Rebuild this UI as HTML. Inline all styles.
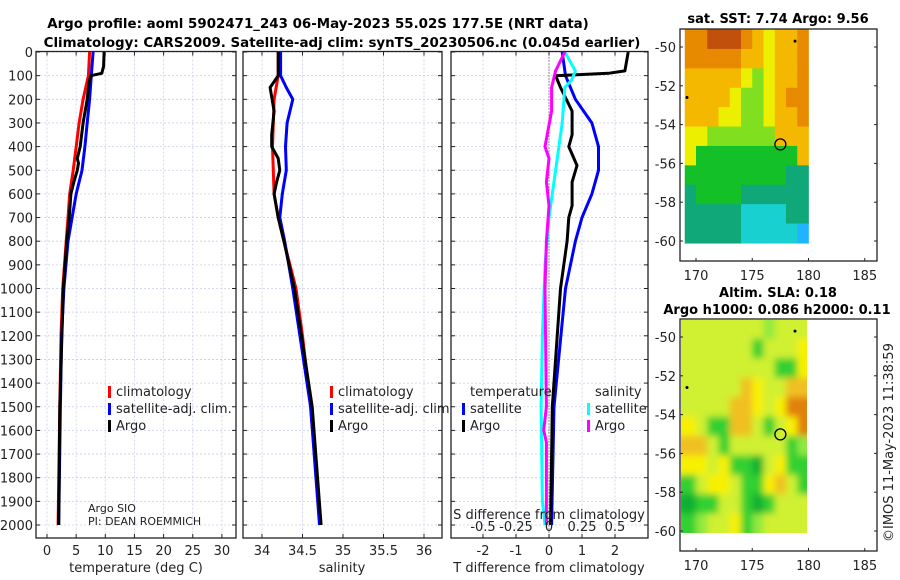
<!DOCTYPE html>
<html><head><meta charset="utf-8"><style>
html,body{margin:0;padding:0;background:#fff;}
svg{display:block;font-family:"DejaVu Sans","Liberation Sans",sans-serif;}
</style></head><body>
<svg id="fig" width="900" height="580" viewBox="0 0 900 580">
<defs>
<filter id="blur" x="-0.1" y="-0.1" width="1.2" height="1.2"><feGaussianBlur stdDeviation="3.5"/></filter>
<clipPath id="clipSla"><rect x="681" y="320" width="126" height="213"/></clipPath>
</defs>
<text x="318" y="28" text-anchor="middle" font-size="13.4" font-weight="bold">Argo profile: aoml 5902471_243 06-May-2023 55.02S 177.5E (NRT data)</text>
<text x="342" y="47" text-anchor="middle" font-size="13.4" font-weight="bold">Climatology: CARS2009. Satellite-adj clim: synTS_20230506.nc (0.045d earlier)</text>
<text x="778" y="23" text-anchor="middle" font-size="13" font-weight="bold">sat. SST: 7.74 Argo: 9.56</text>
<text x="778" y="297" text-anchor="middle" font-size="13" font-weight="bold">Altim. SLA: 0.18</text>
<text x="777" y="314" text-anchor="middle" font-size="13" font-weight="bold">Argo h1000: 0.086 h2000: 0.11</text>
<text transform="translate(893,542) rotate(-90)" font-size="13" fill="#222">©IMOS 11-May-2023 11:38:59</text>
</svg>
<script>
// ---------- data ----------
const depthTicks = [0,100,200,300,400,500,600,700,800,900,1000,1100,1200,1300,1400,1500,1600,1700,1800,1900,2000];
const tTicks = [0,5,10,15,20,25,30];
const sTicks = [34,34.5,35,35.5,36];
const sTickLabels = ["34","34.5","35","35.5","36"];
const dTTicks = [-2,-1,0,1,2];
const dSTicks = [-0.5,-0.25,0,0.25,0.5];
const dSTickLabels = ["-0.5","-0.25","0","0.25","0.5"];

const tClimDepth = [0,100,200,300,400,500,600,700,800,1000,1200,1500,2000];
const tClim = [7.3,7.1,6.2,5.5,5.0,4.5,3.9,3.6,3.3,2.7,2.4,2.2,1.9];
const tSatDepth = [0,100,200,300,400,500,600,700,800,1000,1200,1500,2000];
const tSat = [7.9,7.6,7.3,6.9,6.5,6.0,5.0,4.3,3.6,2.9,2.5,2.3,2.0];
const tArgoDepth = [0,60,90,100,130,200,300,400,450,470,500,550,600,700,800,1000,1500,2000];
const tArgo = [9.8,9.7,9.4,7.5,7.2,6.9,6.2,5.7,5.2,5.4,5.2,4.6,4.1,3.8,3.4,2.8,2.2,2.0];

const sClimDepth = [0,100,200,400,600,700,800,1000,1200,1500,2000];
const sClim = [34.2,34.2,34.15,34.13,34.15,34.2,34.27,34.42,34.5,34.6,34.72];
const sSatDepth = [0,100,150,200,300,400,500,600,700,800,1000,1500,2000];
const sSat = [34.23,34.23,34.3,34.38,34.31,34.29,34.3,34.25,34.22,34.28,34.38,34.6,34.71];
const sArgoDepth = [0,100,150,250,350,400,450,500,550,600,700,800,1000,1500,2000];
const sArgo = [34.2,34.2,34.1,34.15,34.12,34.12,34.2,34.22,34.18,34.15,34.2,34.27,34.4,34.62,34.73];

const dTSatDepth = [0,100,200,300,400,500,600,700,800,1000,1500,2000];
const dTSat = [0.4,0.5,0.8,1.3,1.5,1.5,1.3,1.0,0.8,0.5,0.15,0.08];
const dTArgoDepth = [0,80,90,100,150,250,350,400,480,550,650,700,800,1000,1500,2000];
const dTArgo = [2.4,2.3,1.8,0.2,0.35,0.7,0.7,0.6,0.85,0.7,0.7,0.6,0.55,0.35,0.1,0.05];
const dSSatDepth = [0,80,120,150,300,500,700,900,1200,1500,1900,2000];
const dSSat = [0.12,0.2,0.17,0.12,0.1,0.05,0.0,-0.03,-0.05,-0.06,-0.05,-0.03];
const dSArgoDepth = [0,80,150,250,400,450,550,650,800,1000,1500,1600,1650,2000];
const dSArgo = [0.12,0.05,0.02,0.02,-0.03,0.0,-0.02,0.0,-0.02,-0.03,-0.02,-0.04,-0.02,-0.02];

const mapLonTicks = [170,175,180,185];
const mapLatTicks = [-50,-52,-54,-56,-58,-60];
const sstGrid = [
 [8,8,9,9,9,8,7,6,7,7,8],
 [8,8,8,8,8,7,7,6,7,7,8],
 [7,7,7,7,7,6,5,6,7,7,8],
 [7,7,7,7,6,5,5,6,7,8,8],
 [7,7,7,6,6,5,5,6,7,7,8],
 [6,6,5,5,5,5,5,5,7,7,7],
 [6,4,4,4,4,4,4,4,4,4,7],
 [4,4,4,4,4,4,4,4,4,3,3],
 [3,4,4,4,4,3,3,3,3,3,3],
 [3,3,3,3,3,2,2,2,2,3,3],
 [3,3,3,3,3,2,2,2,2,2,1]];
const slaGrid = [
 [3,3,3,3,3,3,3,2,3,3,3],
 [3,3,3,3,3,3,1,3,3,3,4],
 [3,3,3,3,3,3,3,3,1,1,4],
 [3,3,3,3,3,5,4,3,3,5,5],
 [3,3,3,3,5,5,4,3,4,6,6],
 [4,3,1,1,5,5,3,1,3,4,6],
 [5,5,3,1,3,3,3,3,3,1,2],
 [4,4,3,4,1,1,0,3,4,1,1],
 [1,3,4,4,3,1,1,4,5,3,1],
 [0,1,1,3,3,1,0,1,3,3,3],
 [1,2,3,3,4,1,2,3,3,3,3]];
const argoLon = 177.5, argoLat = -55.02;
const otherLon = [178.8,169.2], otherLat = [-49.7,-52.6];

// ---------- helpers ----------
const NS="http://www.w3.org/2000/svg";
const svgRoot=document.getElementById('fig');
function mk(tag,attrs,parent){const e=document.createElementNS(NS,tag);for(const k in attrs)e.setAttribute(k,attrs[k]);(parent||svgRoot).appendChild(e);return e;}

const Y0=52, YS=0.2365; // depth->px
const yD = d => Y0 + d*YS;
const PT={x0:36,x1:236}, PS={x0:243,x1:442}, PD={x0:451,x1:648};
const TOPY=Y0-0.5, BOTY=538;
const xT = v => 47 + v*5.83;
const xS = v => 262 + (v-34)*81;
const xDT = v => 549 + v*33;
const xDS = v => 549 + v*132;

function panel(P,xTicks,xf,name){
  const g=mk('g',{});
  
  
  mk('rect',{x:P.x0,y:TOPY,width:P.x1-P.x0,height:BOTY-TOPY,fill:'#fff'},g);
  depthTicks.forEach(d=>{mk('line',{x1:P.x0,x2:P.x1,y1:yD(d),y2:yD(d),stroke:'#c8cde8','stroke-width':0.8,'stroke-dasharray':'2,2'},g);});
  xTicks.forEach(t=>{mk('line',{x1:xf(t),x2:xf(t),y1:TOPY,y2:BOTY,stroke:'#c8cde8','stroke-width':0.8,'stroke-dasharray':'2,2'},g);});
  return g;
}
function frame(P,xTicks,xf,labels,g,ylabels){
  mk('rect',{x:P.x0,y:TOPY,width:P.x1-P.x0,height:BOTY-TOPY,fill:'none',stroke:'#222','stroke-width':1.3},g);
  depthTicks.forEach(d=>{
    mk('line',{x1:P.x0,x2:P.x0+4,y1:yD(d),y2:yD(d),stroke:'#222'},g);
    mk('line',{x1:P.x1,x2:P.x1-4,y1:yD(d),y2:yD(d),stroke:'#222'},g);
    if(ylabels){const t=mk('text',{x:P.x0-3,y:yD(d)+5,'text-anchor':'end','font-size':13,fill:'#222'},g);t.textContent=d;
      
      }
  });
  xTicks.forEach((v,i)=>{
    mk('line',{x1:xf(v),x2:xf(v),y1:BOTY,y2:BOTY-4,stroke:'#222'},g);
    mk('line',{x1:xf(v),x2:xf(v),y1:TOPY,y2:TOPY+4,stroke:'#222'},g);
    const t=mk('text',{x:xf(v),y:555,'text-anchor':'middle','font-size':13,fill:'#222'},g);t.textContent=labels[i];
    
    
  });
}
function line(xs,ds,xf,color,g,name,w){
  const p=mk('polyline',{points:xs.map((v,i)=>xf(v).toFixed(1)+','+yD(ds[i]).toFixed(1)).join(' '),fill:'none',stroke:color,'stroke-width':w||3,'stroke-linejoin':'round'},g);
  
  
}
function txt(x,y,s,g,name,opts){const t=mk('text',Object.assign({x:x,y:y,'font-size':13,fill:'#222'},opts||{}),g);t.textContent=s;
  
  return t;}
function legEntry(x,y,color,label,g){
  const r=mk('rect',{x:x,y:y-10,width:3,height:12,fill:color},g);
  
  
  txt(x+8,y,label,g,'legend-entry');
}

// Panel 1 temperature
const g1=panel(PT,tTicks,xT,'temperature-panel');
line(tClim,tClimDepth,xT,'#f00',g1,'temp-climatology-line');
line(tSat,tSatDepth,xT,'#0000ff',g1,'temp-satellite-line');
line(tArgo,tArgoDepth,xT,'#000',g1,'temp-argo-line');
frame(PT,tTicks,xT,tTicks.map(String),g1,true);
legEntry(108,396,'#f00','climatology',g1);
legEntry(108,413,'#0000ff','satellite-adj. clim.',g1);
legEntry(108,430,'#000','Argo',g1);
txt(88,512,'Argo SIO',g1,'argo-source',{'font-size':11});
txt(88,525,'PI: DEAN ROEMMICH',g1,'argo-pi',{'font-size':11});
txt(136,572,'temperature (deg C)',g1,'temp-x-axis-title',{'text-anchor':'middle'});

// Panel 2 salinity
const g2=panel(PS,sTicks,xS,'salinity-panel');
line(sClim,sClimDepth,xS,'#f00',g2,'sal-climatology-line');
line(sSat,sSatDepth,xS,'#0000ff',g2,'sal-satellite-line');
line(sArgo,sArgoDepth,xS,'#000',g2,'sal-argo-line');
frame(PS,sTicks,xS,sTickLabels,g2,false);
legEntry(330,396,'#f00','climatology',g2);
legEntry(330,413,'#0000ff','satellite-adj. clim.',g2);
legEntry(330,430,'#000','Argo',g2);
txt(342,572,'salinity',g2,'sal-x-axis-title',{'text-anchor':'middle'});

// Panel 3 differences
const g3=panel(PD,dTTicks,xDT,'difference-panel');
mk('line',{x1:549,x2:549,y1:TOPY,y2:BOTY,stroke:'#333','stroke-width':1,'stroke-dasharray':'1,2'},g3);
line(dTSat,dTSatDepth,xDT,'#0000ff',g3,'dT-satellite-line');
line(dTArgo,dTArgoDepth,xDT,'#000',g3,'dT-argo-line');
line(dSSat,dSSatDepth,xDS,'#00ffff',g3,'dS-satellite-line');
line(dSArgo,dSArgoDepth,xDS,'#ff00ff',g3,'dS-argo-line');
frame(PD,dTTicks,xDT,dTTicks.map(String),g3,false);
dSTicks.forEach((v,i)=>{txt(xDS(v),531,dSTickLabels[i],g3,'dS-tick-label',{'text-anchor':'middle'});});
txt(549,519,'S difference from climatology',g3,'dS-axis-title',{'text-anchor':'middle'});
txt(549,572,'T difference from climatology',g3,'dT-axis-title',{'text-anchor':'middle'});
txt(470,396,'temperature',g3,'legend-title-temperature');
txt(595,396,'salinity',g3,'legend-title-salinity');
legEntry(462,413,'#0000ff','satellite',g3);
legEntry(462,430,'#000','Argo',g3);
legEntry(587,413,'#00ffff','satellite',g3);
legEntry(587,430,'#ff00ff','Argo',g3);

// ---------- maps ----------
const sstColors=['#1e6eff','#20b4ff','#18d0d0','#10a878','#14c028','#80e020','#ecf000','#f4b800','#e88a00','#c0500c'];
const slaColors=['#10b030','#30d030','#90e840','#d0f030','#f8f000','#f0c020','#e08010'];
function map(y0,y1,grid,colors,name,lat50y,lat60y,blur){
  const g=mk('g',{});
  
  
  const x0=680,x1=877;
  const xL=v=>696+(v-170)*11.25;
  const yL=v=>lat50y+(-50-v)*(lat60y-lat50y)/10;
  mk('rect',{x:x0,y:y0,width:x1-x0,height:y1-y0,fill:'#fff'},g);
  let cg=g;
  if(blur){
    const clip=mk('g',{'clip-path':'url(#clipSla)'},g);
    mk('rect',{x:x0,y:y0,width:128,height:y1-y0,fill:colors[3]},clip);
    cg=mk('g',{filter:'url(#blur)'},clip);
  }
  grid.forEach((row,r)=>row.forEach((c,k)=>{
    const la=-49.1-r; const lb=(r==grid.length-1)?-60.1:la-1;
    let xa=xL(169+k), w=11.6, ya=yL(la), h=yL(lb)-yL(la)+0.6;
    if(blur){ if(k==0){xa-=8;w+=8;} if(k==row.length-1){w+=8;} if(r==0){ya-=8;h+=8;} if(r==grid.length-1){h+=8;} }
    const cell=mk('rect',{x:xa,y:ya,width:w,height:h,fill:colors[c]},cg);
    
    
  }));
  mk('rect',{x:x0,y:y0,width:x1-x0,height:y1-y0,fill:'none',stroke:'#222','stroke-width':1.3},g);
  mapLonTicks.forEach(v=>{mk('line',{x1:xL(v),x2:xL(v),y1:y1,y2:y1-3,stroke:'#222'},g);
    txt(xL(v),y1+19,String(v),g,'map-lon-tick',{'text-anchor':'middle'});});
  mapLatTicks.forEach(v=>{mk('line',{x1:x0,x2:x0+3,y1:yL(v),y2:yL(v),stroke:'#222'},g);
    mk('line',{x1:x1,x2:x1-3,y1:yL(v),y2:yL(v),stroke:'#222'},g);
    txt(x0-4,yL(v)+5,String(v),g,'map-lat-tick',{'text-anchor':'end'});});
  const ring=mk('circle',{cx:xL(argoLon),cy:yL(argoLat),r:5.5,fill:'none',stroke:'#000','stroke-width':1.3},g);
  
  
  otherLon.forEach((v,i)=>{const d=mk('circle',{cx:xL(v),cy:yL(otherLat[i]),r:1.5,fill:'#000'},g);
    
    });
}
map(29,261,sstGrid,sstColors,'sst-map',47,241,false);
map(319,551,slaGrid,slaColors,'sla-map',337,531,true);
</script>
</body></html>
